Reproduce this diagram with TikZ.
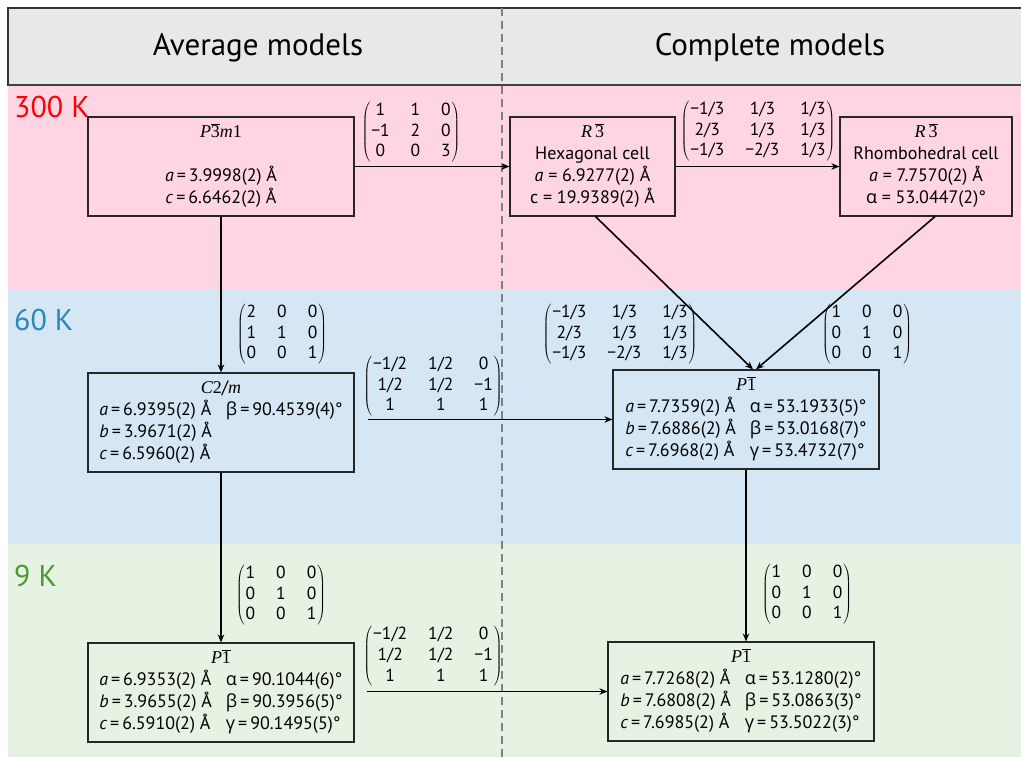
\documentclass[tikz,border=0pt]{standalone}
\usepackage{fontspec}
\setmainfont{PT Sans}
\newfontfamily\grk{Open Sans}
\newfontfamily\sgf{Liberation Serif}
\usetikzlibrary{arrows.meta}
\definecolor{hdrbg}{HTML}{E8E8E8}
\definecolor{pinkbg}{HTML}{FFD5E4}
\definecolor{bluebg}{HTML}{D5E7F5}
\definecolor{greenbg}{HTML}{E6F2E2}
\definecolor{lblred}{HTML}{FF0000}
\definecolor{lblblue}{HTML}{2A88B8}
\definecolor{lblgreen}{HTML}{4A9A30}
\definecolor{dashgray}{HTML}{808080}
\newcommand{\mtx}[1]{$\left(\renewcommand\arraystretch{0.85}\begin{tabular}{@{\hspace{1pt}}c@{\hspace{21pt}}c@{\hspace{21pt}}c@{\hspace{1pt}}}#1\end{tabular}\right)$}
\newcommand{\ga}{{\grk α}}
\newcommand{\gb}{{\grk β}}
\newcommand{\gc}{{\grk γ}}
\newcommand{\eqs}{\,=\,}
\newcommand{\ib}[1]{$\overline{\hbox{\sgf #1}}$}
\newcommand{\sgit}[1]{{\sgf\itshape #1}}
\begin{document}
\begin{tikzpicture}[x=1pt,y=-1pt,
  box/.style={draw=black!85, line width=1.1pt, minimum height=99pt, inner sep=0pt,
    font=\fontsize{18}{22}\selectfont, align=center},
  conn/.style={line width=1.6pt, -{Stealth[length=8pt,width=6.5pt]}},
  mat/.style={inner sep=0pt, font=\fontsize{17.5}{24.5}\selectfont},
  hdr/.style={font=\fontsize{31}{36}\selectfont},
  temp/.style={font=\fontsize{30}{34}\selectfont, anchor=west, inner sep=0pt}]
\useasboundingbox (0,0) rectangle (1021,756);
% bands
\fill[pinkbg] (8,85) rectangle (1030,289);
\fill[bluebg] (8,289) rectangle (1030,544);
\fill[greenbg] (8,544) rectangle (1030,760);
\draw[fill=hdrbg, draw=black!80, line width=1.3pt] (8,8) rectangle (1030,85);
\draw[draw=black!75, line width=2pt] (8,85) -- (1030,85);
\draw[dashgray, line width=1.5pt, dash pattern=on 8pt off 5pt] (502,8) -- (502,760);
% headers
\node[hdr] (havg) at (258,48) {Average models};
\node[hdr] (hcom) at (770,48) {Complete models};
% temperature labels
\node[temp, text=lblred] (t300) at (14,107) {300 K};
\node[temp, text=lblblue] (t60) at (14,320) {60 K};
\node[temp, text=lblgreen] (t9) at (14,576) {9 K};
% boxes
\node[box, minimum width=266pt] (A1) at (221,166.5) {%
\begin{tabular}{@{}c@{}}\sgit{P}\ib{3}\sgit{m}{\sgf 1}\\ \\ \textit{a}\eqs 3.9998(2) Å\\ \textit{c}\eqs 6.6462(2) Å\end{tabular}};
\node[box, minimum width=165pt] (H) at (592.5,166.5) {%
\begin{tabular}{@{}c@{}}\sgit{R}\,\ib{3}\\ Hexagonal cell\\ \textit{a} = 6.9277(2) Å\\ c = 19.9389(2) Å\end{tabular}};
\node[box, minimum width=172pt] (R) at (926,166.5) {%
\begin{tabular}{@{}c@{}}\sgit{R}\,\ib{3}\\ Rhombohedral cell\\ \textit{a} = 7.7570(2) Å\\ \ga{} = 53.0447(2)°\end{tabular}};
\node[box, minimum width=266pt] (A2) at (221,422.5) {%
\begin{tabular}{@{}l@{\hspace{14pt}}l@{}}\multicolumn{2}{c}{\sgit{C}{\sgf 2}/\sgit{m}}\\
\textit{a}\eqs 6.9395(2) Å & \gb\eqs 90.4539(4)°\\
\textit{b}\eqs 3.9671(2) Å & \\
\textit{c}\eqs 6.5960(2) Å & \end{tabular}};
\node[box, minimum width=266pt] (C2) at (746,419.5) {%
\begin{tabular}{@{}l@{\hspace{14pt}}l@{}}\multicolumn{2}{c}{\sgit{P}\ib{1}}\\
\textit{a}\eqs 7.7359(2) Å & \ga\eqs 53.1933(5)°\\
\textit{b}\eqs 7.6886(2) Å & \gb\eqs 53.0168(7)°\\
\textit{c}\eqs 7.6968(2) Å & \gc\eqs 53.4732(7)°\end{tabular}};
\node[box, minimum width=266pt] (A3) at (221,692.5) {%
\begin{tabular}{@{}l@{\hspace{14pt}}l@{}}\multicolumn{2}{c}{\sgit{P}\ib{1}}\\
\textit{a}\eqs 6.9353(2) Å & \ga\eqs 90.1044(6)°\\
\textit{b}\eqs 3.9655(2) Å & \gb\eqs 90.3956(5)°\\
\textit{c}\eqs 6.5910(2) Å & \gc\eqs 90.1495(5)°\end{tabular}};
\node[box, minimum width=266pt] (C3) at (741,691.5) {%
\begin{tabular}{@{}l@{\hspace{14pt}}l@{}}\multicolumn{2}{c}{\sgit{P}\ib{1}}\\
\textit{a}\eqs 7.7268(2) Å & \ga\eqs 53.1280(2)°\\
\textit{b}\eqs 7.6808(2) Å & \gb\eqs 53.0863(3)°\\
\textit{c}\eqs 7.6985(2) Å & \gc\eqs 53.5022(3)°\end{tabular}};
% matrices
\node[mat] (M1) at (411,132) {\mtx{1 & 1 & 0\\ −1 & 2 & 0\\ 0 & 0 & 3}};
\node[mat] (M2) at (758,131) {\mtx{−1/3 & 1/3 & 1/3\\ 2/3 & 1/3 & 1/3\\ −1/3 & −2/3 & 1/3}};
\node[mat] (M3) at (282,334) {\mtx{2 & 0 & 0\\ 1 & 1 & 0\\ 0 & 0 & 1}};
\node[mat] (M4) at (433,386) {\mtx{−1/2 & 1/2 & 0\\ 1/2 & 1/2 & −1\\ 1 & 1 & 1}};
\node[mat] (M5) at (620,334) {\mtx{−1/3 & 1/3 & 1/3\\ 2/3 & 1/3 & 1/3\\ −1/3 & −2/3 & 1/3}};
\node[mat] (M6) at (867,334) {\mtx{1 & 0 & 0\\ 0 & 1 & 0\\ 0 & 0 & 1}};
\node[mat] (M7) at (281,595) {\mtx{1 & 0 & 0\\ 0 & 1 & 0\\ 0 & 0 & 1}};
\node[mat] (M8) at (433,656) {\mtx{−1/2 & 1/2 & 0\\ 1/2 & 1/2 & −1\\ 1 & 1 & 1}};
\node[mat] (M9) at (807,594) {\mtx{1 & 0 & 0\\ 0 & 1 & 0\\ 0 & 0 & 1}};
% connectors
\draw[conn] (A1) -- (H);
\draw[conn] (H) -- (R);
\draw[conn] (A1) -- (A2);
\draw[conn] (A2) -- (A3);
\draw[conn] ([xshift=13pt]A2.east |- C2.west) -- (C2.west);
\draw[conn] ([xshift=12pt]A3.east |- C3.west) -- (C3.west);
\draw[conn] (C2.south) -- (C2.south |- C3.north);
\draw[conn] ([xshift=3pt]H.south) -- ([xshift=7pt]C2.north);
\draw[conn] ([xshift=9pt]R.south) -- ([xshift=10pt]C2.north);
\end{tikzpicture}
\end{document}
